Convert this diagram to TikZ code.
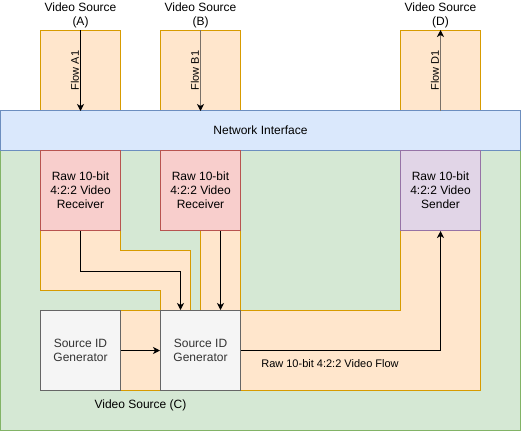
\documentclass[tikz,border=0pt]{standalone}
\usepackage{fontspec}
\setmainfont{Liberation Sans}
\usetikzlibrary{arrows.meta}

\definecolor{grnfill}{HTML}{D5E8D4}
\definecolor{grnline}{HTML}{82B366}
\definecolor{blufill}{HTML}{DAE8FC}
\definecolor{bluline}{HTML}{6C8EBF}
\definecolor{orafill}{HTML}{FFE6CC}
\definecolor{oraline}{HTML}{D79B00}
\definecolor{redfill}{HTML}{F8CECC}
\definecolor{redline}{HTML}{B85450}
\definecolor{purfill}{HTML}{E1D5E7}
\definecolor{purline}{HTML}{9673A6}
\definecolor{gryfill}{HTML}{F5F5F5}
\definecolor{gryline}{HTML}{666666}
\definecolor{grytext}{HTML}{333333}
\definecolor{flowgray}{HTML}{7A7168}

\begin{document}
\begin{tikzpicture}[x=1pt,y=-1pt,line width=1pt,
	every node/.style={font=\fontsize{12}{14}\selectfont,align=center},
	box/.style={draw,minimum width=80pt,minimum height=80pt,inner sep=0pt},
	srcbox/.style={box,fill=orafill,draw=oraline},
	rcvbox/.style={box,fill=redfill,draw=redline},
	sndbox/.style={box,fill=purfill,draw=purline},
	genbox/.style={box,fill=gryfill,draw=gryline,text=grytext},
	lane/.style={fill=orafill,draw=oraline},
	flow/.style={-{Stealth[length=7pt,width=7pt,inset=2pt,color=black]}},
	flowlabel/.style={midway,rotate=90,anchor=south,inner sep=1pt,font=\fontsize{11}{13}\selectfont}]
		\useasboundingbox (-0.5,-0.5) rectangle (520.5,430.5);

		\draw[fill=grnfill,draw=grnline] (0,150) rectangle (520,430);

		\node[srcbox] (srcA) at (80,70) {};
		\node[srcbox] (srcB) at (200,70) {};
		\node[srcbox] (srcD) at (440,70) {};
		\node (labA) at (80,14.5) {Video Source\\(A)};
		\node (labB) at (200,14.5) {Video Source\\(B)};
		\node (labD) at (440,14.5) {Video Source\\(D)};

		\node[draw=bluline,fill=blufill,minimum width=520pt,minimum height=40pt,inner sep=0pt] (net) at (260,130) {Network Interface};

		\draw[lane] (40,230) -- (120,230) -- (120,250) -- (190,250) -- (190,310) -- (160,310) -- (160,290) -- (40,290) -- cycle;
		\draw[lane] (200,230) rectangle (240,310);
		\draw[lane] (120,310) rectangle (160,390);
		\draw[lane] (240,310) -- (400,310) -- (400,230) -- (480,230) -- (480,390) -- (240,390) -- cycle;

		\node[rcvbox] (rcvA) at (80,190) {Raw 10-bit\\4:2:2 Video\\Receiver};
		\node[rcvbox] (rcvB) at (200,190) {Raw 10-bit\\4:2:2 Video\\Receiver};
		\node[sndbox] (sndD) at (440,190) {Raw 10-bit\\4:2:2 Video\\Sender};
		\node[genbox] (genA) at (80,350) {Source ID\\Generator};
		\node[genbox] (genB) at (200,350) {Source ID\\Generator};

		\draw[flow] (srcA.north) -- (srcA.south) node[flowlabel] {Flow A1};
		\draw[flow,flowgray] (srcB.north) -- (srcB.south) node[flowlabel,text=black] {Flow B1};
		\draw[flow,flowgray] (srcD.south) -- (srcD.north) node[flowlabel,text=black] {Flow D1};

		\draw[flow] (rcvA.south) -- ++(0,40) -| ([xshift=-20pt]genB.north);
		\draw[flow] ([xshift=20pt]rcvB.south) -- ([xshift=20pt]genB.north);
		\draw[flow] (genA.east) -- (genB.west);
		\draw[flow] (genB.east) -| (sndD.south);

		\node[font=\fontsize{11}{13}\selectfont] (vidflow) at (329.5,363) {Raw 10-bit 4:2:2 Video Flow};
		\node (labC) at (140,405) {Video Source (C)};
	\end{tikzpicture}
\end{document}
